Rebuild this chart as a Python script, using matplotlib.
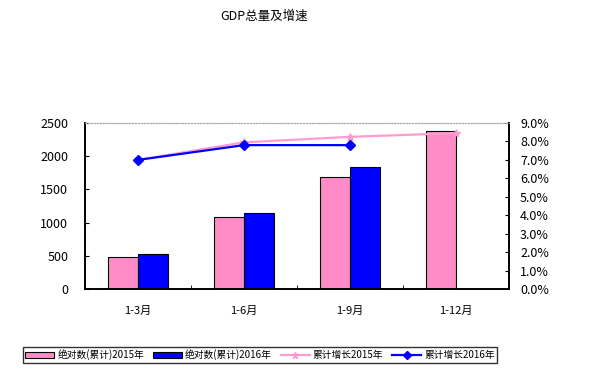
import matplotlib
matplotlib.use("Agg")
import matplotlib.pyplot as plt
import numpy as np
from matplotlib.ticker import FuncFormatter, FixedLocator

plt.rcParams['font.family'] = ['Noto Sans CJK SC', 'DejaVu Sans']

categories = ['1-3月', '1-6月', '1-9月', '1-12月']
gdp_2015 = [486, 1080, 1691, 2384]
gdp_2016 = [527, 1149, 1842]
growth_2015 = [7.0, 7.95, 8.25, 8.45]
growth_2016 = [7.0, 7.8, 7.8]
yticks_left = [0, 500, 1000, 1500, 2000, 2500]
yticks_right = [0, 1, 2, 3, 4, 5, 6, 7, 8, 9]
labels = ['绝对数(累计)2015年', '绝对数(累计)2016年', '累计增长2015年', '累计增长2016年']

pink = '#ff8cc6'
blue = '#0000ff'
pink_line = '#ff9ccf'

fig = plt.figure(figsize=(6.02, 3.78), dpi=100)
ax = fig.add_axes([85/602, 1-289/378, 424/602, 166/378])
ax2 = ax.twinx()

x = np.arange(len(categories))
w = 0.285
b1 = ax.bar(x - w/2, gdp_2015, width=w, color=pink, edgecolor='black', linewidth=0.8, zorder=2)
b2 = ax.bar(x[:len(gdp_2016)] + w/2, gdp_2016, width=w, color=blue, edgecolor='black', linewidth=0.8, zorder=2)

ax.set_xlim(-0.5, 3.5)
ax.set_ylim(0, 2500)
ax.set_yticks(yticks_left)
ax.set_xticks(x)
ax.set_xticklabels(categories, fontsize=8)
ax.xaxis.set_minor_locator(FixedLocator([0.5, 1.5, 2.5]))
ax.tick_params(axis='x', which='major', length=0, pad=12)
ax.tick_params(axis='x', which='minor', length=3, direction='in')
ax.tick_params(axis='y', direction='in', length=3, labelsize=9, pad=12)

ax2.set_ylim(0, 9)
ax2.set_yticks(yticks_right)
ax2.yaxis.set_major_formatter(FuncFormatter(lambda v, p: f'{v:.1f}%'))
ax2.tick_params(axis='y', direction='in', length=3, labelsize=9, pad=8)

l1, = ax2.plot(x, growth_2015, color=pink_line, marker='*', markersize=6, linewidth=1.6, zorder=3)
l2, = ax2.plot(x[:len(growth_2016)], growth_2016, color=blue, marker='D', markersize=5.5, linewidth=1.6, zorder=4)

for a in (ax, ax2):
    a.spines['top'].set_color('#aaaaaa')
    a.spines['top'].set_linestyle(':')
    a.spines['left'].set_linewidth(1.2)
    a.spines['right'].set_linewidth(1.2)
    a.spines['bottom'].set_linewidth(1.2)

fig.text(264/602, 1-16/378, 'GDP总量及增速', ha='center', va='center', fontsize=9)

leg = fig.legend([b1, b2, l1, l2], labels, loc='center', bbox_to_anchor=(260/602, 1-355/378),
                 ncol=4, fontsize=7, frameon=True, fancybox=False, edgecolor='black',
                 handlelength=3.0, handletextpad=0.3, columnspacing=0.9, borderpad=0.25,
                 markerscale=0.8)
leg.get_frame().set_linewidth(1.0)

fig.savefig('out.png', dpi=100)
